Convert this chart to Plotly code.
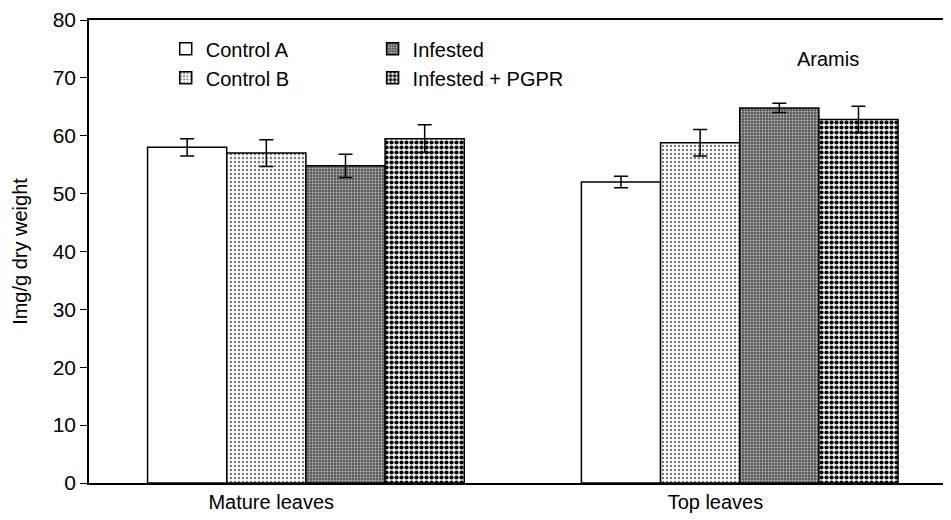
import plotly.graph_objects as go

# data (Aramis)
categories = ["Mature leaves", "Top leaves"]
cat_pos = [0, 1]
label_pos = [-0.08, 0.944]

control_a = [58.0, 52.0]
control_a_err = [1.5, 1.0]
control_b = [57.0, 58.8]
control_b_err = [2.3, 2.3]
infested = [54.8, 64.8]
infested_err = [2.0, 0.8]
infested_pgpr = [59.5, 62.8]
infested_pgpr_err = [2.4, 2.3]

FONT = "Liberation Sans, Arial, sans-serif"


def add_series(fig, name, values, errors, pattern, legend):
    """Add one treatment as a patterned bar with error bars"""
    fig.add_trace(go.Bar(
        x=cat_pos, y=values, name=name, legend=legend,
        marker=dict(color=pattern.get("bgcolor", "white"),
                    line=dict(color="black", width=1.5),
                    pattern=pattern),
        error_y=dict(type="data", array=errors, color="black",
                     thickness=1.5, width=7),
    ))


fig = go.Figure()
add_series(fig, "Control A", control_a, control_a_err,
           dict(shape="", bgcolor="white"), "legend")
add_series(fig, "Control B", control_b, control_b_err,
           dict(shape=".", bgcolor="white", fgcolor="#777777",
                size=4, solidity=0.28, fillmode="replace"), "legend")
add_series(fig, "Infested", infested, infested_err,
           dict(shape=".", bgcolor="#5a5a5a", fgcolor="#c0c0c0",
                size=3, solidity=0.3, fillmode="replace"), "legend2")
add_series(fig, "Infested + PGPR", infested_pgpr, infested_pgpr_err,
           dict(shape=".", bgcolor="white", fgcolor="black",
                size=5, solidity=0.55, fillmode="replace"), "legend2")

fig.add_annotation(text="Aramis", x=0.857, y=0.916, xref="paper", yref="paper",
                   xanchor="center", yanchor="middle", showarrow=False,
                   font=dict(size=20, color="black", family=FONT))

legend_style = dict(orientation="v", yanchor="top", xanchor="left", y=0.98,
                    font=dict(size=20), bgcolor="rgba(0,0,0,0)", tracegroupgap=0)

# page body adds an 8px offset, so margins are trimmed to keep the plot in place
fig.update_layout(
    width=943, height=512,
    margin=dict(l=81, r=0, t=12, b=37),
    paper_bgcolor="white", plot_bgcolor="white",
    font=dict(family=FONT, size=20, color="black"),
    barmode="group", bargap=0.27, bargroupgap=0,
    legend=dict(x=0.089, **legend_style),
    legend2=dict(x=0.329, **legend_style),
    xaxis=dict(range=[-0.5, 1.487], tickvals=label_pos, ticktext=categories,
               ticks="", showline=True, linecolor="black", linewidth=1.5,
               mirror=True, showgrid=False, zeroline=False, automargin=False),
    yaxis=dict(range=[0, 80], dtick=10, ticks="outside", ticklen=7,
               tickcolor="black", showline=True, linecolor="black", linewidth=1.5,
               showgrid=False, zeroline=False, automargin=False,
               tickfont=dict(size=21),
               title=dict(text="Img/g dry weight", font=dict(size=20), standoff=20)),
)

fig.write_html("out.html")
